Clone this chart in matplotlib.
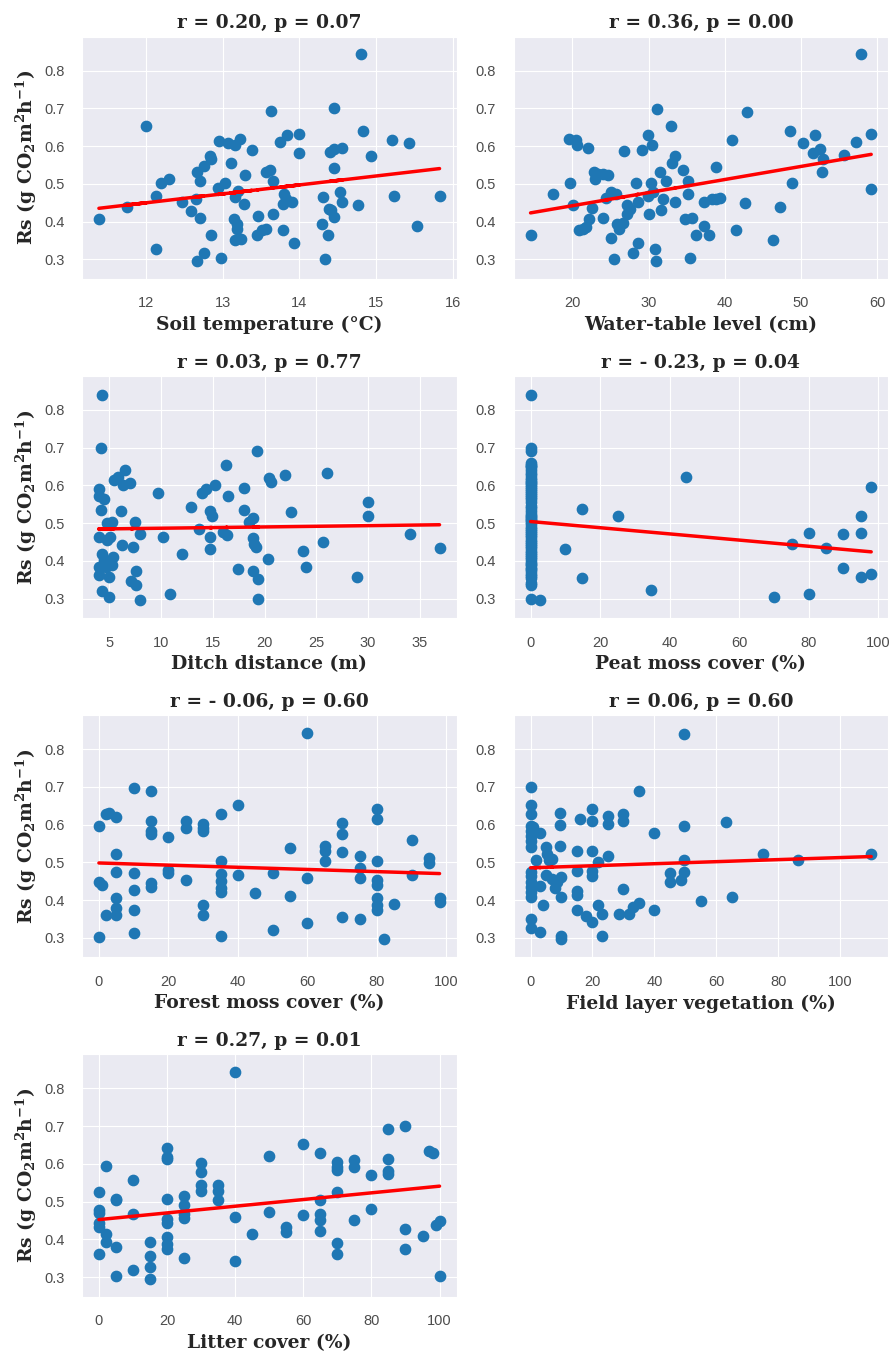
import numpy as np
import matplotlib
matplotlib.use("Agg")
import matplotlib.pyplot as plt
import seaborn as sns

sns.set_style("darkgrid")
plt.rcParams['font.family'] = ['Liberation Sans', 'DejaVu Sans']
plt.rcParams['mathtext.fontset'] = 'dejavuserif'
plt.rcParams['mathtext.default'] = 'bf'

# soil temperature (degC) vs Rs
soil_temp = [11.38, 12.0, 11.75, 12.12, 12.12, 12.19, 12.30, 12.46, 12.58, 12.66,
             12.70, 12.75, 12.65, 12.70, 12.66, 12.75, 12.83, 12.85, 12.85, 12.98,
             12.94, 13.03, 12.95, 13.06, 13.16, 13.22, 13.10, 13.20, 13.16, 13.27,
             13.29, 13.38, 13.14, 13.19, 13.19, 13.16, 13.23, 13.46, 13.45, 13.51,
             13.56, 13.56, 13.61, 13.66, 13.63, 13.66, 13.78, 13.75, 13.84, 13.99,
             14.0, 13.80, 13.79, 13.90, 13.83, 13.93, 14.29, 14.31, 14.34, 14.37,
             14.38, 14.41, 14.45, 14.40, 14.45, 14.56, 14.45, 14.45, 14.53, 14.56,
             14.76, 14.81, 14.83, 14.93, 15.21, 15.24, 15.43, 15.54, 15.83]
rs_temp = [0.406, 0.654, 0.438, 0.467, 0.326, 0.503, 0.514, 0.453, 0.427, 0.532,
           0.507, 0.547, 0.459, 0.409, 0.296, 0.316, 0.573, 0.565, 0.364, 0.304,
           0.488, 0.503, 0.613, 0.609, 0.604, 0.619, 0.556, 0.481, 0.466, 0.447,
           0.524, 0.589, 0.406, 0.393, 0.381, 0.351, 0.355, 0.416, 0.364, 0.377,
           0.379, 0.531, 0.536, 0.507, 0.692, 0.419, 0.377, 0.611, 0.629, 0.631,
           0.582, 0.474, 0.446, 0.453, 0.459, 0.342, 0.393, 0.465, 0.300, 0.364,
           0.434, 0.430, 0.413, 0.585, 0.593, 0.595, 0.541, 0.701, 0.478, 0.453,
           0.444, 0.844, 0.641, 0.573, 0.616, 0.469, 0.607, 0.388, 0.469]

# water-table level (cm)
wt_level = [14.5, 17.4, 19.6, 19.7, 20.1, 20.4, 20.6, 20.9, 21.4, 21.8,
            22.0, 22.2, 22.6, 22.8, 22.9, 23.3, 24.0, 24.0, 24.7, 24.4,
            25.0, 25.1, 25.4, 25.7, 25.8, 26.1, 26.8, 26.6, 27.2, 27.2,
            27.5, 28.0, 28.6, 28.4, 28.6, 29.1, 29.9, 29.9, 30.1, 30.3,
            30.4, 30.6, 30.8, 30.9, 31.1, 31.5, 31.6, 31.9, 32.3, 32.9,
            33.0, 33.5, 33.4, 34.5, 34.8, 35.1, 35.1, 35.4, 35.7, 36.2,
            37.2, 37.3, 37.9, 38.3, 38.8, 38.8, 39.4, 41.0, 41.4, 42.7,
            42.9, 46.3, 47.2, 48.5, 48.8, 50.2, 51.6, 51.8, 52.5, 52.7,
            52.9, 55.6, 57.2, 57.8, 59.2, 59.2]
rs_wt = [0.364, 0.474, 0.620, 0.503, 0.444, 0.616, 0.604, 0.377, 0.381, 0.386,
         0.595, 0.406, 0.435, 0.532, 0.514, 0.525, 0.525, 0.410, 0.523, 0.463,
         0.478, 0.356, 0.300, 0.472, 0.393, 0.381, 0.587, 0.395, 0.444, 0.419,
         0.434, 0.316, 0.342, 0.503, 0.453, 0.589, 0.629, 0.467, 0.419, 0.503,
         0.602, 0.478, 0.326, 0.296, 0.699, 0.532, 0.430, 0.460, 0.507, 0.654,
         0.556, 0.573, 0.453, 0.536, 0.406, 0.507, 0.474, 0.304, 0.410, 0.364,
         0.388, 0.453, 0.364, 0.459, 0.544, 0.461, 0.463, 0.616, 0.377, 0.448,
         0.691, 0.351, 0.439, 0.641, 0.503, 0.607, 0.582, 0.629, 0.591, 0.532,
         0.566, 0.575, 0.611, 0.844, 0.632, 0.485]

# ditch distance (m)
ditch_dist = [4.3, 4.2, 4.0, 4.0, 4.5, 4.2, 4.0, 4.0, 4.0, 4.3,
              4.5, 4.3, 4.8, 4.8, 5.0, 5.0, 5.1, 5.3, 5.4, 5.3,
              4.7, 5.5, 5.8, 6.1, 6.2, 6.3, 6.5, 7.0, 7.3, 7.1,
              7.5, 7.6, 7.6, 8.0, 8.0, 9.7, 10.2, 10.9, 12.0, 12.9,
              13.7, 14.0, 14.3, 14.7, 14.9, 14.7, 14.7, 15.2, 16.0, 16.4,
              16.3, 16.5, 17.4, 18.0, 18.0, 18.5, 18.9, 18.9, 19.0, 19.2,
              18.9, 19.4, 19.4, 19.3, 20.3, 20.4, 20.6, 22.0, 22.6, 23.7,
              24.0, 25.6, 26.0, 28.9, 30.0, 30.0, 34.0, 36.9]
rs_ditch = [0.838, 0.699, 0.589, 0.573, 0.565, 0.534, 0.463, 0.384, 0.362, 0.419,
            0.401, 0.320, 0.500, 0.454, 0.303, 0.357, 0.463, 0.503, 0.410, 0.388,
            0.384, 0.615, 0.622, 0.532, 0.441, 0.602, 0.641, 0.606, 0.437, 0.347,
            0.503, 0.372, 0.335, 0.472, 0.296, 0.580, 0.463, 0.311, 0.417, 0.543,
            0.485, 0.580, 0.591, 0.532, 0.519, 0.463, 0.430, 0.602, 0.476, 0.468,
            0.653, 0.573, 0.379, 0.594, 0.535, 0.503, 0.514, 0.461, 0.444, 0.437,
            0.372, 0.353, 0.300, 0.690, 0.406, 0.620, 0.609, 0.628, 0.529, 0.425,
            0.384, 0.450, 0.632, 0.357, 0.556, 0.518, 0.470, 0.434]

# peat moss cover (%): most plots have none
peat_cover = [0] * 61 + [2.7, 9.9, 14.9, 14.9, 25.0, 34.6, 44.7, 70.0, 75.0, 80.0,
                         80.0, 84.9, 89.9, 89.9, 95.0, 95.0, 95.0, 97.9, 97.9]
rs_peat = [0.838, 0.700, 0.690, 0.300, 0.655, 0.650, 0.641, 0.632, 0.628, 0.620,
           0.615, 0.610, 0.605, 0.602, 0.595, 0.590, 0.585, 0.580, 0.575, 0.570,
           0.565, 0.556, 0.545, 0.540, 0.533, 0.525, 0.515, 0.507, 0.503, 0.498,
           0.490, 0.485, 0.480, 0.475, 0.468, 0.462, 0.456, 0.450, 0.445, 0.440,
           0.433, 0.426, 0.420, 0.415, 0.410, 0.404, 0.398, 0.392, 0.388, 0.382,
           0.377, 0.372, 0.366, 0.360, 0.355, 0.520, 0.510, 0.340, 0.336, 0.660,
           0.648,
           0.296, 0.431, 0.537, 0.355, 0.520, 0.322, 0.621, 0.303, 0.445, 0.474,
           0.311, 0.434, 0.472, 0.381, 0.520, 0.474, 0.357, 0.596, 0.366]

# forest moss cover (%)
forest_cover = [0, 0, 0, 1, 2, 2, 3, 5, 5, 5,
                5, 5, 5, 10, 10, 10, 10, 10, 15, 15,
                15, 15, 15, 15, 20, 20, 20, 25, 25, 25,
                30, 30, 30, 30, 30, 35, 35, 35, 35, 35,
                35, 35, 40, 40, 45, 50, 50, 55, 55, 60,
                60, 60, 65, 65, 65, 70, 70, 70, 70, 75,
                75, 75, 75, 80, 80, 80, 80, 80, 80, 80,
                80, 82, 85, 90, 90, 95, 95, 98, 98]
rs_forest = [0.596, 0.302, 0.448, 0.439, 0.360, 0.627, 0.630, 0.619, 0.521, 0.474,
             0.406, 0.380, 0.360, 0.698, 0.471, 0.428, 0.373, 0.313, 0.689, 0.610,
             0.583, 0.574, 0.446, 0.435, 0.567, 0.481, 0.473, 0.610, 0.592, 0.453,
             0.601, 0.592, 0.583, 0.386, 0.360, 0.627, 0.504, 0.468, 0.450, 0.433,
             0.421, 0.306, 0.651, 0.466, 0.419, 0.471, 0.322, 0.537, 0.411, 0.842,
             0.458, 0.340, 0.543, 0.530, 0.504, 0.605, 0.574, 0.528, 0.356, 0.517,
             0.486, 0.459, 0.349, 0.641, 0.616, 0.504, 0.453, 0.440, 0.406, 0.388,
             0.375, 0.297, 0.390, 0.559, 0.466, 0.511, 0.499, 0.406, 0.395]

# field layer vegetation (%)
field_veg = [0, 0, 0, 0, 0, 0, 0, 0, 0, 0,
             0, 0, 0, 0, 0, 0, 0.8, 1.9, 1.4, 3.2,
             3.0, 3.2, 4.0, 4.9, 4.9, 5.4, 5.9, 7.0, 6.8, 7.9,
             8.6, 9.5, 9.5, 9.5, 9.7, 9.7, 9.7, 9.7, 14.9, 14.9,
             14.9, 14.9, 14.9, 15.9, 17.8, 19.8, 19.8, 19.8, 19.8, 19.8,
             20.0, 21.9, 21.9, 23.0, 23.0, 25.1, 25.1, 25.1, 28.6, 29.7,
             29.7, 29.7, 31.7, 33.0, 34.9, 34.9, 40.0, 40.0, 45.1, 45.1,
             48.6, 49.5, 49.5, 49.5, 49.7, 54.9, 63.2, 65.2, 75.1, 86.3,
             110.0]
rs_field = [0.700, 0.652, 0.628, 0.597, 0.584, 0.571, 0.556, 0.540, 0.474, 0.463,
            0.447, 0.434, 0.421, 0.408, 0.350, 0.326, 0.593, 0.505, 0.580, 0.578,
            0.437, 0.315, 0.387, 0.540, 0.467, 0.522, 0.505, 0.509, 0.456, 0.431,
            0.447, 0.632, 0.599, 0.544, 0.460, 0.409, 0.306, 0.297, 0.529, 0.476,
            0.423, 0.414, 0.375, 0.615, 0.357, 0.641, 0.610, 0.529, 0.476, 0.463,
            0.341, 0.502, 0.387, 0.363, 0.304, 0.518, 0.622, 0.602, 0.362, 0.430,
            0.628, 0.610, 0.363, 0.381, 0.393, 0.690, 0.577, 0.375, 0.471, 0.447,
            0.454, 0.595, 0.841, 0.505, 0.474, 0.397, 0.606, 0.409, 0.522, 0.505,
            0.522]

# litter cover (%)
litter_cover = [0, 0, 0, 0, 0, 0, 2, 2, 2, 5,
                5, 5, 5, 10, 10, 10, 15, 15, 15, 15,
                20, 20, 20, 20, 20, 20, 20, 20, 20, 25,
                25, 25, 25, 25, 30, 30, 30, 30, 35, 35,
                35, 40, 40, 40, 45, 50, 50, 55, 55, 60,
                60, 65, 65, 65, 65, 65, 70, 70, 70, 70,
                70, 70, 75, 75, 75, 80, 80, 85, 85, 85,
                85, 90, 90, 90, 95, 97, 98, 99, 100, 100]
rs_litter = [0.525, 0.478, 0.469, 0.444, 0.432, 0.362, 0.595, 0.415, 0.394, 0.507,
             0.503, 0.379, 0.304, 0.557, 0.468, 0.318, 0.394, 0.355, 0.326, 0.296,
             0.642, 0.617, 0.613, 0.507, 0.454, 0.444, 0.406, 0.388, 0.375, 0.516,
             0.490, 0.468, 0.457, 0.351, 0.602, 0.578, 0.543, 0.529, 0.545, 0.529,
             0.505, 0.844, 0.459, 0.342, 0.413, 0.622, 0.472, 0.432, 0.419, 0.653,
             0.465, 0.629, 0.503, 0.468, 0.452, 0.423, 0.604, 0.593, 0.584, 0.525,
             0.390, 0.362, 0.609, 0.591, 0.452, 0.571, 0.481, 0.692, 0.613, 0.582,
             0.572, 0.701, 0.428, 0.375, 0.410, 0.633, 0.629, 0.439, 0.448, 0.302]

panels = [
    (soil_temp, rs_temp, 'Soil temperature (°C)', 'r = 0.20, p = 0.07'),
    (wt_level, rs_wt, 'Water-table level (cm)', 'r = 0.36, p = 0.00'),
    (ditch_dist, rs_ditch, 'Ditch distance (m)', 'r = 0.03, p = 0.77'),
    (peat_cover, rs_peat, 'Peat moss cover (%)', 'r = - 0.23, p = 0.04'),
    (forest_cover, rs_forest, 'Forest moss cover (%)', 'r = - 0.06, p = 0.60'),
    (field_veg, rs_field, 'Field layer vegetation (%)', 'r = 0.06, p = 0.60'),
    (litter_cover, rs_litter, 'Litter cover (%)', 'r = 0.27, p = 0.01'),
]

rs_label = r'Rs (g CO$_2$m$^2$h$^{-1}$)'
serif = dict(fontfamily='DejaVu Serif', fontweight='bold', fontsize=13.5)

fig, axes = plt.subplots(4, 2, figsize=(8.9, 13.55), dpi=100)
fig.subplots_adjust(left=0.092, right=0.998, top=0.973, bottom=0.043,
                    wspace=0.152, hspace=0.40)

for i, (x, y, xlabel, title) in enumerate(panels):
    ax = axes.flat[i]
    x = np.array(x, dtype=float)
    y = np.array(y, dtype=float)
    ax.scatter(x, y, s=55, color='#1f77b4', zorder=3)
    m, b = np.polyfit(x, y, 1)
    ax.plot(x, m * x + b, color='red', linewidth=2.5, zorder=4)
    ax.set_ylim(0.248, 0.890)
    ax.set_yticks([0.3, 0.4, 0.5, 0.6, 0.7, 0.8])
    ax.tick_params(labelsize=10.5, labelcolor='0.3', pad=9)
    ax.set_xlabel(xlabel, labelpad=4, **serif)
    ax.set_title(title, pad=6, **serif)
    if i % 2 == 0:
        ax.set_ylabel(rs_label, labelpad=4, **serif)

axes.flat[7].remove()

plt.savefig('out.png')
